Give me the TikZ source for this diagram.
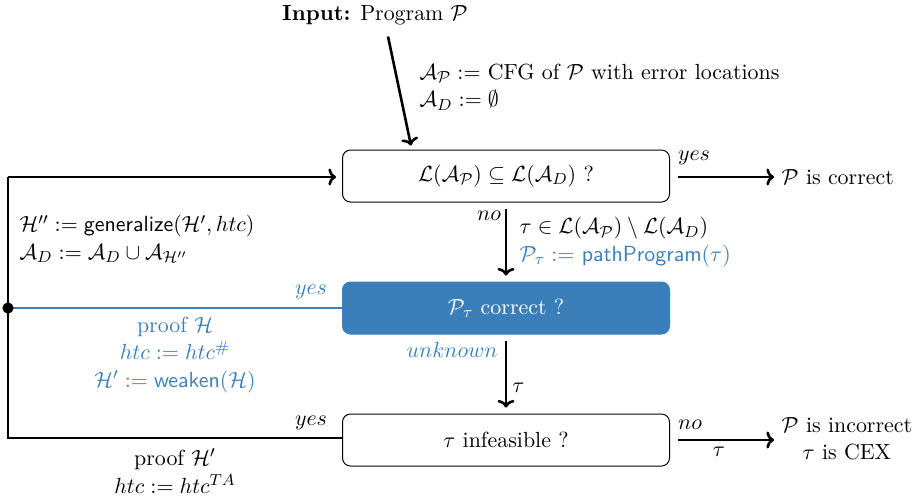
\documentclass[11pt,tikz,border=0pt]{standalone}
\usepackage{amsmath,amssymb}
\usetikzlibrary{arrows.meta}
\definecolor{flowblue}{RGB}{59,127,186}
\begin{document}
\begin{tikzpicture}[x=0.5pt,y=-0.5pt,
  check/.style={draw, line width=0.5pt, rounded corners=4pt,
    minimum width=163.5pt, minimum height=26pt},
  checkfill/.style={check, draw=flowblue, fill=flowblue, text=white},
  flow/.style={line width=1.3pt, -{To[length=3.8pt,width=8.5pt]}},
  wire/.style={line width=1.3pt},
  bluewire/.style={line width=1.3pt, draw=flowblue},
  tag/.style={inner sep=2pt},
  multi/.style={align=left},
  stack/.style={align=center}]
\useasboundingbox (0,0) rectangle (920,500);

% decision boxes
\node[check] (q1) at (506,176) {$\mathcal{L}(\mathcal{A}_{\mathcal{P}}) \subseteq \mathcal{L}(\mathcal{A}_D)$ ?};
\node[checkfill] (q2) at (506,308) {$\mathcal{P}_\tau$ correct ?};
\node[check] (q3) at (506,440) {$\tau$ infeasible ?};

% input
\node (input) at (375,15) {\textbf{Input:} Program $\mathcal{P}$};
\draw[flow] ([xshift=6.5pt,yshift=-2pt]input.south) -- ([xshift=-47.5pt,yshift=2pt]q1.north);
\node[multi, anchor=west] (init) at (412,87)
  {$\mathcal{A}_{\mathcal{P}} :=$ CFG of $\mathcal{P}$ with error locations\\
   $\mathcal{A}_D := \emptyset$};

% outcomes
\node[anchor=west] (ok) at (774,177) {$\mathcal{P}$ is correct};
\draw[flow, shorten <=4pt] (q1.east |- ok.west) -- (ok.west);
\node[tag] (yes1) at (694,158) {$yes$};

\node[stack, anchor=west] (bad) at (774,439) {$\mathcal{P}$ is incorrect\\ $\tau$ is CEX};
\draw[flow, shorten <=4pt] (q3.east) -- (q3.east -| bad.west);
\node[tag] (no2) at (690,425) {$no$};
\node[tag] (tau2) at (719,452) {$\tau$};

% main column
\draw[flow, shorten <=3pt, shorten >=3pt] (q1.south) -- (q2.north);
\node[tag] (no1) at (489,216) {$no$};
\node[multi, anchor=west] (cex) at (512,242)
  {$\tau \in \mathcal{L}(\mathcal{A}_{\mathcal{P}}) \setminus \mathcal{L}(\mathcal{A}_D)$\\
   \textcolor{flowblue}{$\mathcal{P}_\tau :=$ \textsf{pathProgram}$(\tau)$}};

\draw[flow, shorten <=3pt, shorten >=3pt] (q2.south) -- (q3.north);
\node[tag, text=flowblue, anchor=east] (unk) at (502,350) {$unknown$};
\node[tag, anchor=west] (tau1) at (508,388) {$\tau$};

% refinement loop on the left
\coordinate (lt) at (8,177);
\coordinate (dot) at (8,308);
\coordinate (lb) at (8,438);
\draw[bluewire] (q2.west) -- (dot);
\draw[wire] (q3.west |- lb) -- (lb) -- (lt);
\draw[flow, shorten >=3pt] (lt) -- (lt -| q1.west);
\fill (dot) circle (2.8pt);

\node[tag, text=flowblue] (yes2) at (311,292) {$yes$};
\node[tag] (yes3) at (311,423) {$yes$};

\node[multi, anchor=west] (gen) at (12,239)
  {$\mathcal{H}'' := \textsf{generalize}(\mathcal{H}', htc)$\\
   $\mathcal{A}_D := \mathcal{A}_D \cup \mathcal{A}_{\mathcal{H}''}$};
\node[stack, text=flowblue] (pf1) at (175,355)
  {proof $\mathcal{H}$\\ $htc := htc^{\#}$\\ $\mathcal{H}' := \textsf{weaken}(\mathcal{H})$};
\node[stack] (pf2) at (175,471)
  {proof $\mathcal{H}'$\\ $htc := htc^{TA}$};
\end{tikzpicture}
\end{document}
